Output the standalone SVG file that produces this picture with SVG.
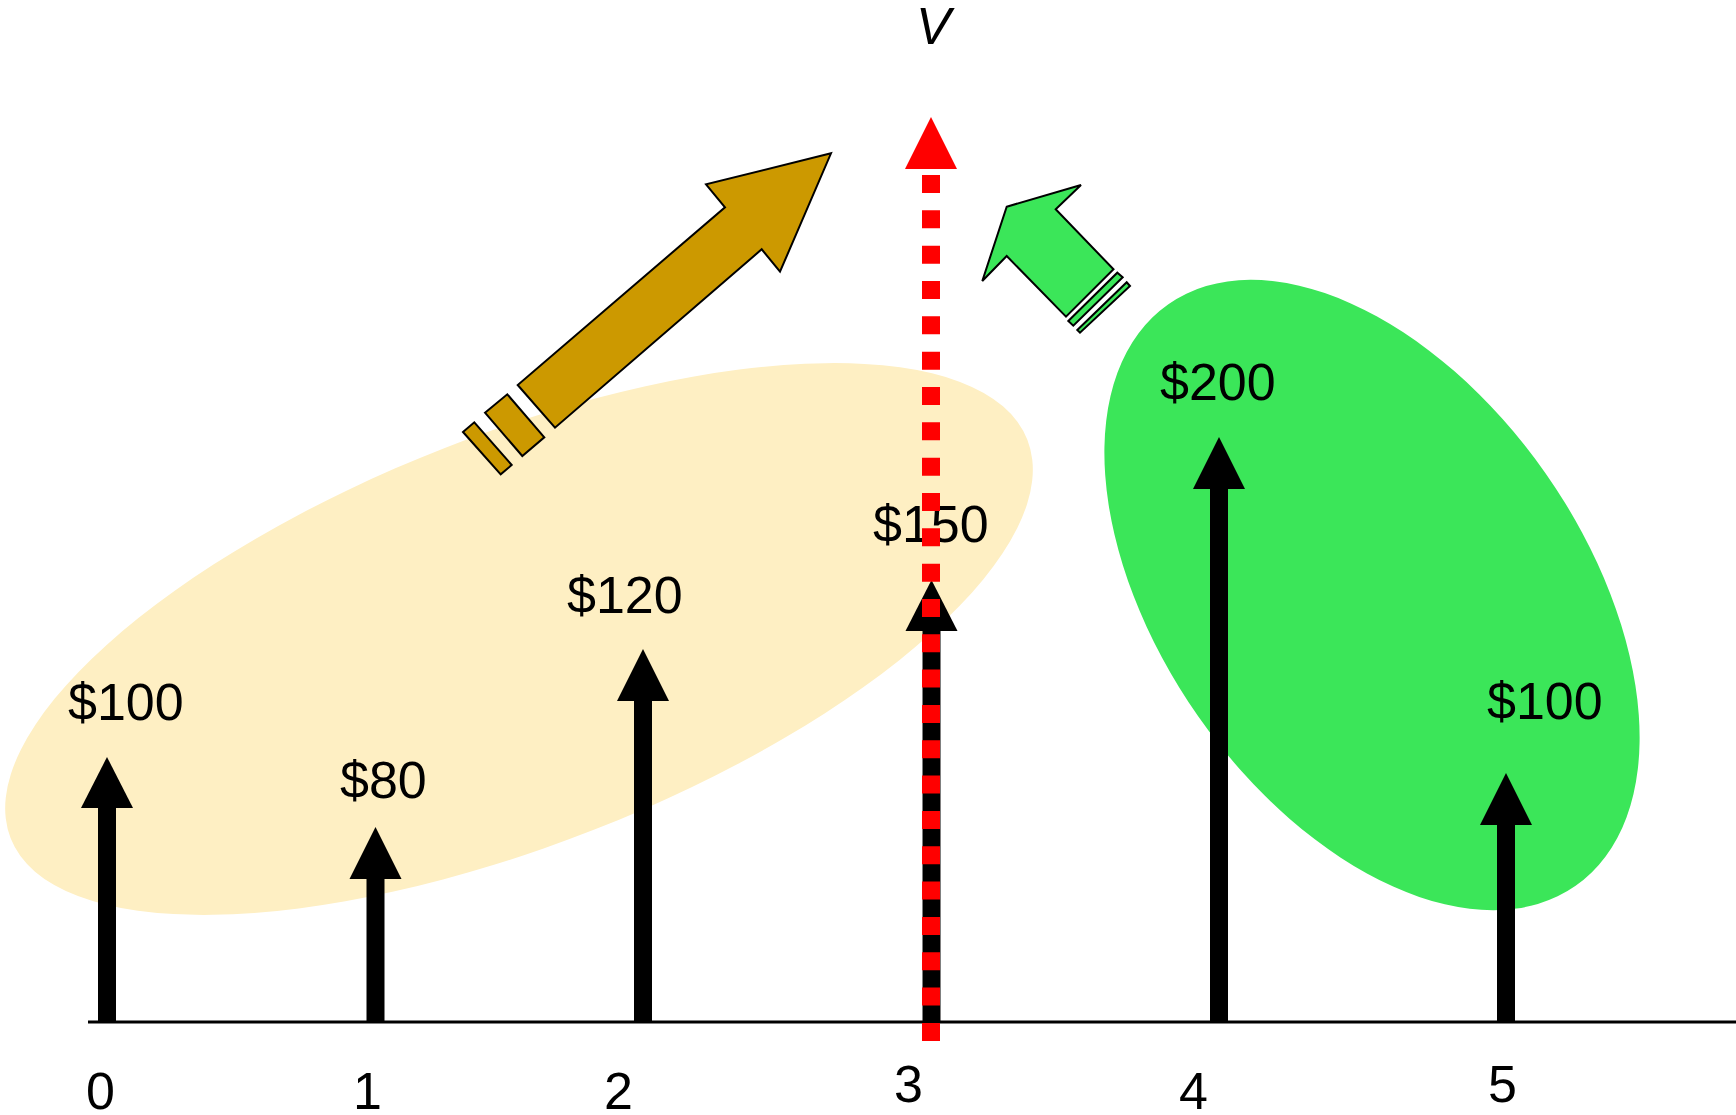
<svg xmlns="http://www.w3.org/2000/svg" width="1736" height="1115" viewBox="0 0 1736 1115">
<style>
.lbl{font-family:"Liberation Sans",Arial,sans-serif;font-size:52px;fill:#000}
.shaft{stroke:#000;stroke-width:18;fill:none}
.head{fill:#000}
.blk{stroke:#000;stroke-width:2;stroke-linejoin:miter}
</style>
<rect width="1736" height="1115" fill="#fff"/>
<g id="regions">
<ellipse id="beige-region" cx="519" cy="639" rx="546" ry="205" transform="rotate(-21.4 519 639)" fill="#FEEFC3"/>
<ellipse id="green-region" cx="1372" cy="595" rx="355" ry="212" transform="rotate(55 1372 595)" fill="#3BE659"/>
</g>
<g id="gold-arrow">
<polygon class="blk" fill="#CC9900" points="831,153.3 706,184.3 725,207.3 517.7,385 555,427.7 761.7,249.3 780,271.7"/>
<polygon class="blk" fill="#CC9900" points="485,412.7 507.3,394.3 544.3,437.3 522.3,456"/>
<polygon class="blk" fill="#CC9900" points="463,432 474.3,422.3 511.7,465 500.7,474.3"/>
</g>
<g id="green-arrow">
<polygon class="blk" fill="#3BE659" points="1006.7,206.7 1081,185 1055.7,209.3 1113.5,269.3 1066,316.7 1006.7,256 982.3,281"/>
<polygon class="blk" fill="#3BE659" points="1068.3,321 1117.3,272.7 1122.7,277.3 1073.3,325.7"/>
<polygon class="blk" fill="#3BE659" points="1077.3,330 1126.7,282.3 1130,286 1080,332.7"/>
</g>
<g id="labels">
<text id="v-label" class="lbl" x="916" y="44" font-style="italic">V</text>
<text id="cf0" class="lbl" x="68" y="720">$100</text>
<text id="cf1" class="lbl" x="340" y="798">$80</text>
<text id="cf2" class="lbl" x="567" y="613">$120</text>
<text id="cf3" class="lbl" x="873" y="542">$150</text>
<text id="cf4" class="lbl" x="1160" y="400">$200</text>
<text id="cf5" class="lbl" x="1487" y="719">$100</text>
<text id="t0" class="lbl" x="86" y="1109">0</text>
<text id="t1" class="lbl" x="353" y="1109">1</text>
<text id="t2" class="lbl" x="604" y="1109">2</text>
<text id="t3" class="lbl" x="894" y="1102">3</text>
<text id="t4" class="lbl" x="1179" y="1109">4</text>
<text id="t5" class="lbl" x="1488" y="1102">5</text>
</g>
<g id="connectors">
<line class="shaft" x1="107" y1="806" x2="107" y2="1022"/>
<polygon class="head" points="107,757 81,808 133,808"/>
<line class="shaft" x1="375.5" y1="877" x2="375.5" y2="1022"/>
<polygon class="head" points="375.5,827 349.5,879 401.5,879"/>
<line class="shaft" x1="643" y1="699" x2="643" y2="1022"/>
<polygon class="head" points="643,649 617,701 669,701"/>
<line class="shaft" x1="931.5" y1="629" x2="931.5" y2="1022"/>
<polygon class="head" points="931.5,580 905.5,631 957.5,631"/>
<line class="shaft" x1="1219" y1="487" x2="1219" y2="1022"/>
<polygon class="head" points="1219,437 1193,489 1245,489"/>
<line class="shaft" x1="1506" y1="823" x2="1506" y2="1022"/>
<polygon class="head" points="1506,773 1480,825 1532,825"/>
<line id="axis" x1="88" y1="1022" x2="1736" y2="1022" stroke="#000" stroke-width="3"/>
<line id="v-line" x1="931" y1="175" x2="931" y2="1041" stroke="#FF0000" stroke-width="18" stroke-dasharray="18 17.33"/>
<polygon id="v-head" fill="#FF0000" points="931,117 905,169 957,169"/>
</g>
</svg>
